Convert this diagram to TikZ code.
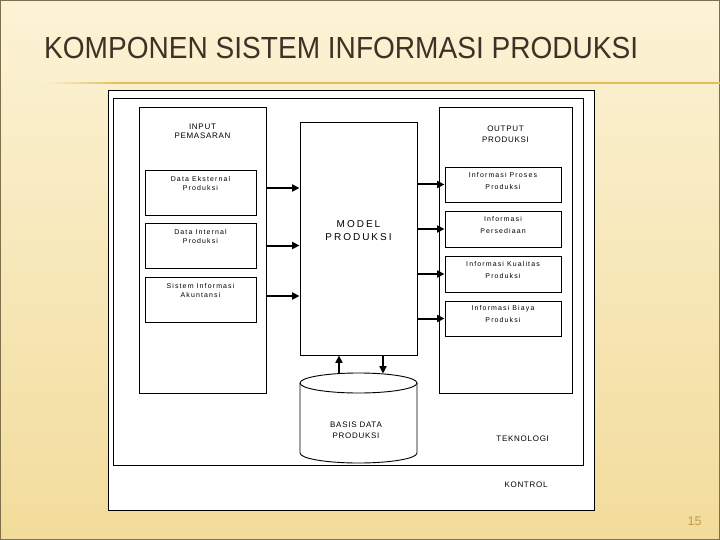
\documentclass[tikz,border=0pt]{standalone}
\usepackage{fontspec}
\setmainfont{Liberation Sans}
\newfontfamily\titlefont[FakeStretch=0.92]{Liberation Sans}
\newfontfamily\boxfont[LetterSpace=16]{Liberation Sans}
\newfontfamily\headfont[LetterSpace=9]{Liberation Sans}
\newfontfamily\modelfont[LetterSpace=20]{Liberation Sans}
\usetikzlibrary{arrows.meta,calc}
\definecolor{slidetop}{RGB}{252,243,214}
\definecolor{slidebot}{RGB}{242,220,155}
\definecolor{framecol}{RGB}{125,112,75}
\definecolor{titlecol}{RGB}{62,50,38}
\definecolor{rulecol}{RGB}{232,186,90}
\definecolor{numcol}{RGB}{200,150,70}
\tikzstyle{box}=[draw,line width=0.9pt,fill=white,inner sep=0pt]
\tikzstyle{boxL}=[anchor=north,inner sep=0pt,align=center,font=\boxfont\fontsize{7}{9}\selectfont]
\tikzstyle{boxR}=[boxL,font=\boxfont\fontsize{7}{11.3}\selectfont]
\tikzstyle{headL}=[boxL,font=\headfont\fontsize{8}{9.3}\selectfont]
\tikzstyle{headR}=[boxL,font=\headfont\fontsize{8}{11.3}\selectfont]
\tikzstyle{modeltext}=[boxL,font=\modelfont\fontsize{10}{12.3}\selectfont]
\tikzstyle{head}=[inner sep=0pt,align=center,font=\headfont\fontsize{8}{11}\selectfont]
\tikzstyle{arr}=[draw,line width=2pt,-{Triangle[length=7.5pt,width=7pt]}]

\begin{document}
\begin{tikzpicture}[x=1pt,y=-1pt]
        % slide
        \useasboundingbox (0,0) rectangle (720,540);
        \shade[top color=slidetop,bottom color=slidebot] (0,0) rectangle (720,540);
        \draw[framecol,line width=1.2pt] (0.6,0.6) rectangle (719.4,539.4);
        \node[anchor=base west,inner sep=0pt,text=titlecol,font=\titlefont\fontsize{30.5}{36}\selectfont] (title) at (44,59) {KOMPONEN SISTEM INFORMASI PRODUKSI};
        \shade[left color=slidetop,right color=rulecol] (40,82.4) rectangle (120,83.6);
        \fill[rulecol] (120,82.4) rectangle (720,83.6);
        \node[anchor=base,inner sep=0pt,text=numcol,font=\fontsize{12.5}{14}\selectfont] (page) at (694.5,525) {15};

        % kontrol and teknologi
        \node[box,minimum width=486,minimum height=420] (kontrol) at (351,300) {};
        \node[box,minimum width=470,minimum height=367] (tek) at (348,281.5) {};
        \node[head,anchor=base] (kontrollbl) at (526,487.3) {KONTROL};
        \node[head,anchor=base] (teklbl) at (522.7,441.7) {TEKNOLOGI};

        % input
        \node[box,minimum width=127,minimum height=286,label={[headL,yshift=-17]north:INPUT\\PEMASARAN}] (inp) at (202.5,250) {};
        \node[box,minimum width=111,minimum height=45,label={[boxL,yshift=-7]north:Data Eksternal\\Produksi}] (ext) at (200.5,192.5) {};
        \node[box,minimum width=111,minimum height=45,label={[boxL,yshift=-7]north:Data Internal\\Produksi}] (intl) at (200.5,245.5) {};
        \node[box,minimum width=111,minimum height=45,label={[boxL,yshift=-7]north:Sistem Informasi\\Akuntansi}] (sia) at (200.5,299.5) {};

        % model
        \node[box,minimum width=117,minimum height=233,label={[modeltext,yshift=-99]north:MODEL\\PRODUKSI}] (mdl) at (358.5,238.5) {};

        % output
        \node[box,minimum width=133,minimum height=286,label={[headR,yshift=-19]north:OUTPUT\\PRODUKSI}] (outp) at (505.5,250) {};
        \node[box,minimum width=116,minimum height=35,label={[boxR,yshift=-6]north:Informasi Proses\\Produksi}] (proses) at (503,184.5) {};
        \node[box,minimum width=116,minimum height=36,label={[boxR,yshift=-6]north:Informasi\\Persediaan}] (sedia) at (503,229) {};
        \node[box,minimum width=116,minimum height=36,label={[boxR,yshift=-6]north:Informasi Kualitas\\Produksi}] (kual) at (503,274) {};
        \node[box,minimum width=116,minimum height=35,label={[boxR,yshift=-5]north:Informasi Biaya\\Produksi}] (biaya) at (503,318.5) {};

        % basis data
        \coordinate (db) at (358.5,383);
        \filldraw[fill=white,line width=0.9pt] (300,383) -- (300,453) arc[start angle=180,end angle=0,x radius=58.5,y radius=10] -- (417,383);
        \draw[line width=0.9pt] (db) ellipse[x radius=58.5,y radius=10];
        \node[head] (dbtext) at (356,430.5) {BASIS DATA\\PRODUKSI};

        % arrows
        \path[arr] ($(ext.east -| inp.east)+(0,-4.5)$) -- ($(ext.east -| mdl.west)+(0,-4.5)$);
        \path[arr] (intl.east -| inp.east) -- (intl.east -| mdl.west);
        \path[arr] ($(sia.east -| inp.east)+(0,-3.5)$) -- ($(sia.east -| mdl.west)+(0,-3.5)$);
        \path[arr] (proses.west -| mdl.east) -- (proses.west);
        \path[arr] (sedia.west -| mdl.east) -- (sedia.west);
        \path[arr] (kual.west -| mdl.east) -- (kual.west);
        \path[arr] (biaya.west -| mdl.east) -- (biaya.west);
        \coordinate (up) at (339,373.6);
        \coordinate (dn) at (383,373.6);
        \path[arr] (up) -- (up |- mdl.south);
        \path[arr] (dn |- mdl.south) -- (dn);
    \end{tikzpicture}
\end{document}
